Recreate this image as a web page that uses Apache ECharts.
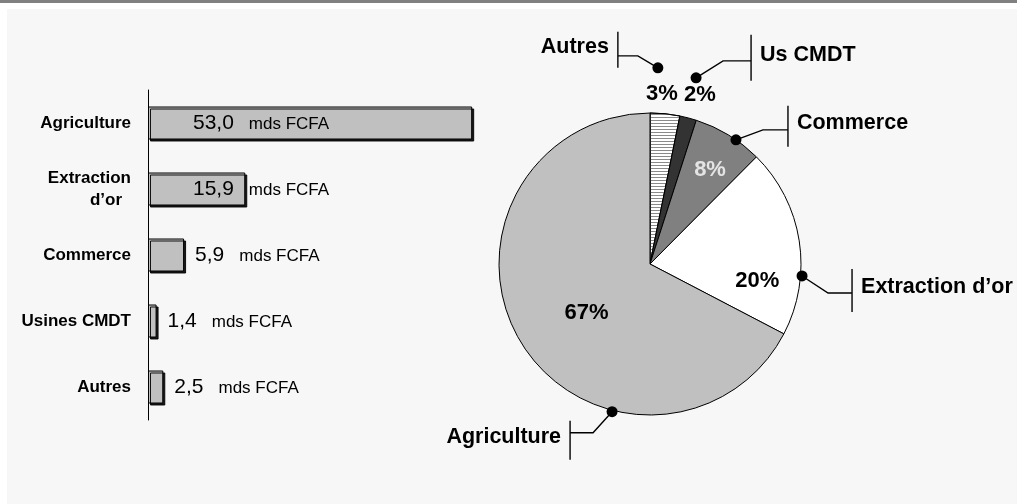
<!DOCTYPE html>
<html>
<head>
<meta charset="utf-8">
<script src="https://cdn.jsdelivr.net/npm/echarts@6/dist/echarts.min.js"></script>
<style>
    html, body { margin: 0; padding: 0; background: #fff; }
    #topline { position: absolute; left: 0; top: 0; width: 1017px; height: 3px; background: #808080; }
    #panel { position: absolute; left: 7px; top: 9px; width: 1010px; height: 495px; background: #f7f7f7; }
    #chart { position: absolute; left: 0; top: 0; width: 1017px; height: 504px; }
</style>
</head>
<body>
<div id="topline"></div>
<div id="panel"></div>
<div id="chart"></div>
<script>
// data
var categories = ['Agriculture', 'Extraction d’or', 'Commerce', 'Usines CMDT', 'Autres'];
var pieNames = ['Agriculture', 'Extraction d’or', 'Commerce', 'Us CMDT', 'Autres'];
var values = [53.0, 15.9, 5.9, 1.4, 2.5];
var unit = 'mds FCFA';

// layout / style (not data)
var FONT = 'Liberation Sans, Arial, sans-serif';
var PIE_CX = 650, PIE_CY = 264, PIE_R = 151;
var sliceColors = ['#c0c0c0', '#ffffff', '#808080', '#333333', '#ffffff'];
// percent label placement: [angle from top clockwise, radius factor]
var pctPos = [[232.6, 0.53], [99, 0.72], [32.5, 0.74], [16.4, 1.17], [4, 1.13]];
// leader lines: anchor [radius factor, angle], elbow offset, horizontal length, bar extent
var leaders = [
    { anchor: [1.01, 194.4], elbow: [-19, 21], len: -23, bar: [-12, 27] },
    { anchor: [1.01, 94.5], elbow: [26, 17], len: 24, bar: [-24, 19] },
    { anchor: [1.0, 34.7], elbow: [27, -10], len: 25, bar: [-24, 17] },
    { anchor: [1.27, 13.9], elbow: [27, -17], len: 28, bar: [-26, 20] },
    { anchor: [1.30, 2.3], elbow: [-20, -12], len: -20, bar: [-24, 12] }
];

function fmt(v) { return v.toFixed(1).replace('.', ','); }

// pie goes clockwise from top: Autres, Us CMDT, Commerce, Extraction, Agriculture
var pieOrder = [4, 3, 2, 1, 0];
var pieData = pieOrder.map(function (i) {
    var item = {
        name: pieNames[i],
        value: values[i],
        itemStyle: { color: sliceColors[i] },
        label: { color: i === 2 ? '#e4e4e4' : '#000' }
    };
    if (i === 4) {
        item.itemStyle.decal = {
            symbol: 'rect', symbolSize: 1,
            dashArrayX: [1, 0], dashArrayY: [1, 2],
            rotation: 0, color: '#8a8a8a'
        };
    }
    return item;
});

var barData = values.map(function (v, i) {
    var big = i < 2;
    return {
        value: v,
        label: big ? { position: 'insideLeft', distance: 45 } : { position: 'right', distance: 11 }
    };
});

var myChart = echarts.init(document.getElementById('chart'));
var option = {
    animation: false,
    textStyle: { fontFamily: FONT },
    grid: { left: 148, top: 90, width: 367, height: 330 },
    xAxis: { type: 'value', min: 0, max: 60, show: false },
    yAxis: {
        type: 'category',
        inverse: true,
        data: categories,
        axisLine: { lineStyle: { color: '#000', width: 1 } },
        axisTick: { show: false },
        axisLabel: {
            margin: 17,
            color: '#000',
            fontFamily: FONT,
            fontWeight: 'bold',
            fontSize: 17,
            lineHeight: 22,
            formatter: function (v) {
                return v === 'Extraction d’or' ? 'Extraction\n{p|d’or}' : v;
            },
            rich: { p: { fontFamily: FONT, fontWeight: 'bold', fontSize: 17, padding: [0, 9, 0, 0] } }
        }
    },
    polar: { center: [PIE_CX, PIE_CY], radius: PIE_R },
    angleAxis: { type: 'value', min: 0, max: 360, startAngle: 90, clockwise: true, show: false },
    radiusAxis: { type: 'value', min: 0, max: 1, show: false },
    series: [
        {
            type: 'bar',
            data: barData,
            barWidth: 33,
            itemStyle: {
                color: '#c0c0c0',
                borderColor: '#000',
                borderWidth: 1,
                shadowColor: 'rgba(0,0,0,0.9)',
                shadowOffsetX: 2,
                shadowOffsetY: 2,
                shadowBlur: 0
            },
            label: {
                show: true,
                formatter: function (p) { return '{v|' + fmt(p.value) + '}{u|' + unit + '}'; },
                rich: {
                    v: { fontFamily: FONT, fontSize: 21, color: '#000', lineHeight: 22, verticalAlign: 'bottom' },
                    u: { fontFamily: FONT, fontSize: 17, color: '#000', lineHeight: 20, verticalAlign: 'bottom', padding: [0, 0, 1, 15] }
                }
            },
            silent: true
        },
        {
            type: 'pie',
            center: [PIE_CX, PIE_CY],
            radius: PIE_R,
            startAngle: 90,
            clockwise: true,
            data: pieData,
            silent: true,
            itemStyle: { borderColor: '#000', borderWidth: 1 },
            label: {
                show: true,
                position: 'inside',
                fontFamily: FONT,
                fontWeight: 'bold',
                fontSize: 22,
                formatter: function (p) { return Math.round(p.percent) + '%'; }
            },
            labelLine: { show: false },
            labelLayout: function (p) {
                var c = pctPos[pieOrder[p.dataIndex]];
                var a = c[0] * Math.PI / 180;
                return {
                    x: PIE_CX + PIE_R * c[1] * Math.sin(a),
                    y: PIE_CY - PIE_R * c[1] * Math.cos(a),
                    align: 'center',
                    verticalAlign: 'middle'
                };
            }
        },
        {
            // name callouts: dot, bent leader, vertical bar, name
            type: 'custom',
            coordinateSystem: 'polar',
            silent: true,
            z: 5,
            data: leaders.map(function (l) { return l.anchor; }),
            renderItem: function (params, api) {
                var i = params.dataIndex;
                var L = leaders[i];
                var pt = api.coord([api.value(0), api.value(1)]);
                var ex = pt[0] + L.elbow[0], ey = pt[1] + L.elbow[1];
                var bx = ex + L.len;
                var dir = L.len > 0 ? 1 : -1;
                var stroke = { stroke: '#000', lineWidth: 1.4, fill: null };
                return {
                    type: 'group',
                    children: [
                        { type: 'polyline', shape: { points: [pt, [ex, ey], [bx, ey]] }, style: stroke },
                        { type: 'line', shape: { x1: bx, y1: ey + L.bar[0], x2: bx, y2: ey + L.bar[1] }, style: stroke },
                        { type: 'circle', shape: { cx: pt[0], cy: pt[1], r: 5.5 }, style: { fill: '#000' } },
                        {
                            type: 'text',
                            x: bx + dir * 9,
                            y: ey + (L.bar[0] + L.bar[1]) / 2 - 3,
                            style: {
                                text: pieNames[i],
                                fill: '#000',
                                font: 'bold 21.5px ' + FONT,
                                align: dir > 0 ? 'left' : 'right',
                                verticalAlign: 'middle'
                            }
                        }
                    ]
                };
            }
        }
    ]
};
myChart.setOption(option);
</script>
</body>
</html>
